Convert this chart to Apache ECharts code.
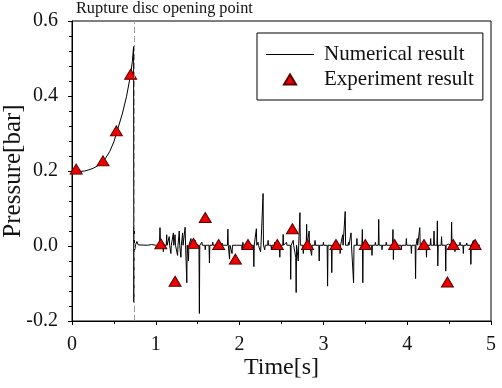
<!DOCTYPE html>
<html><head><meta charset="utf-8">
<script src="https://cdn.jsdelivr.net/npm/echarts@6/dist/echarts.min.js"></script>
<style>html,body{margin:0;padding:0;background:#fff}#c{width:502px;height:388px}</style>
</head><body><div id="c"></div>
<script>
const xTicks = [0, 1, 2, 3, 4, 5];
const yTicks = [-0.2, 0.0, 0.2, 0.4, 0.6];
const ruptureTime = 0.74;
const expTime = [0.05,0.37,0.53,0.70,1.06,1.23,1.45,1.59,1.75,1.95,2.10,2.45,2.63,2.81,3.15,3.50,3.85,4.20,4.48,4.55,4.81];
const expPressure = [0.205,0.227,0.307,0.458,0.006,-0.094,0.007,0.076,0.004,-0.035,0.004,0.004,0.046,0.004,0.004,0.004,0.004,0.004,-0.096,0.004,0.004];
const numerical = [
[0,0.198],[0.05,0.198],[0.1,0.199],[0.15,0.200],[0.2,0.203],[0.25,0.207],[0.3,0.213],[0.35,0.221],[0.4,0.234],[0.45,0.252],[0.5,0.278],[0.55,0.315],[0.6,0.352],[0.65,0.398],[0.7,0.458],[0.72,0.492],[0.735,0.532],
[0.738,-0.15],[0.742,0.05],[0.748,-0.01],[0.76,0.004],[0.775,0.012],[0.79,0.003],[0.9,0.002],[0.95,0.004],[1.0,0.002],
[1.043,0.002],[1.05,0.049],[1.057,0.002],
[1.085,0.002],[1.09,-0.015],[1.095,0.002],
[1.125,0.002],[1.13,0.03],[1.135,0.002],
[1.155,0.002],[1.16,0.025],[1.165,0.002],
[1.175,0.002],[1.18,-0.02],[1.185,0.002],
[1.205,0.002],[1.21,0.035],[1.215,0.002],
[1.225,0.002],[1.23,0.03],[1.235,0.002],
[1.255,0.002],[1.26,-0.025],[1.265,0.002],
[1.275,0.002],[1.28,0.04],[1.285,0.002],
[1.295,0.002],[1.30,-0.03],[1.305,0.002],
[1.315,0.002],[1.32,0.035],[1.325,0.002],
[1.345,0.002],[1.35,0.05],[1.355,0.002],
[1.365,0.002],[1.37,-0.098],[1.375,0.002],
[1.385,0.002],[1.39,-0.04],[1.395,0.002],
[1.415,0.002],[1.42,0.02],[1.425,0.002],
[1.465,0.002],[1.47,0.015],[1.475,0.002],
[1.515,0.002],[1.52,-0.18],[1.525,0.002],
[1.545,0.002],[1.55,0.01],[1.555,0.002],
[1.585,0.002],[1.59,-0.01],[1.595,0.002],
[1.635,0.002],[1.64,-0.045],[1.645,0.002],
[1.675,0.002],[1.68,0.01],[1.685,0.002],
[1.725,0.002],[1.73,-0.01],[1.735,0.002],
[1.785,0.002],[1.79,0.008],[1.795,0.002],
[1.855,0.002],[1.86,0.045],[1.865,0.002],
[1.875,0.002],[1.88,-0.035],[1.885,0.002],
[1.905,0.002],[1.91,-0.02],[1.915,0.002],
[1.965,0.002],[1.97,0.005],[1.975,0.002],
[2.025,0.002],[2.03,-0.01],[2.035,0.002],
[2.04,0.01],[2.045,0.002],
[2.165,0.002],[2.17,-0.055],[2.175,0.002],
[2.195,0.002],[2.20,0.046],[2.205,0.002],
[2.22,0.01],[2.225,0.002],
[2.245,0.002],[2.25,-0.015],[2.255,0.002],
[2.275,0.002],[2.28,0.14],[2.285,0.002],
[2.30,-0.01],[2.305,0.002],
[2.335,0.002],[2.34,0.015],[2.345,0.002],
[2.375,0.002],[2.38,-0.01],[2.385,0.002],
[2.415,0.002],[2.42,0.01],[2.425,0.002],
[2.475,0.002],[2.48,-0.03],[2.485,0.002],
[2.515,0.002],[2.52,0.031],[2.525,0.002],
[2.56,0.01],[2.565,0.002],
[2.605,0.002],[2.61,-0.089],[2.615,0.002],
[2.64,0.015],[2.645,0.002],
[2.665,0.002],[2.67,-0.03],[2.675,-0.124],[2.68,0.002],
[2.695,0.002],[2.70,-0.04],[2.705,0.002],
[2.715,0.002],[2.72,0.089],[2.725,0.002],
[2.755,0.002],[2.76,-0.02],[2.765,0.002],
[2.795,0.002],[2.80,0.058],[2.805,0.002],
[2.825,0.002],[2.83,0.04],[2.835,0.002],
[2.855,0.002],[2.86,-0.025],[2.865,0.002],
[2.895,0.002],[2.90,0.015],[2.905,0.002],
[2.945,0.002],[2.95,-0.04],[2.955,0.002],
[2.995,0.002],[3.00,0.01],[3.005,0.002],
[3.045,0.002],[3.05,-0.107],[3.055,0.002],
[3.095,0.002],[3.10,-0.071],[3.105,0.002],
[3.135,0.002],[3.14,0.01],[3.145,0.002],
[3.195,0.002],[3.20,-0.02],[3.205,0.002],
[3.225,0.002],[3.23,0.03],[3.235,0.002],
[3.255,0.002],[3.26,0.092],[3.265,0.002],
[3.295,0.002],[3.30,0.01],[3.305,0.002],
[3.325,0.002],[3.33,0.035],[3.335,0.002],
[3.355,0.002],[3.36,-0.098],[3.365,0.002],
[3.395,0.002],[3.40,0.02],[3.405,0.002],
[3.46,0.002],[3.465,0.044],[3.47,-0.098],[3.475,0.002],
[3.515,0.002],[3.52,0.005],[3.525,0.002],
[3.575,0.002],[3.58,-0.025],[3.585,0.002],
[3.615,0.002],[3.62,0.01],[3.625,0.002],
[3.655,0.002],[3.66,0.071],[3.665,0.002],
[3.695,0.002],[3.70,-0.01],[3.705,0.002],
[3.745,0.002],[3.75,0.01],[3.755,0.002],
[3.825,0.002],[3.83,0.044],[3.835,-0.036],[3.84,0.002],
[3.865,0.002],[3.87,0.005],[3.875,0.002],
[3.925,0.002],[3.93,-0.01],[3.935,0.002],
[3.985,0.002],[3.99,0.02],[3.995,0.002],
[4.045,0.002],[4.05,-0.02],[4.055,0.002],
[4.095,0.002],[4.10,-0.087],[4.105,0.002],
[4.12,0.02],[4.125,0.002],
[4.145,0.002],[4.15,0.049],[4.155,0.002],
[4.185,0.002],[4.19,-0.01],[4.195,0.002],
[4.225,0.002],[4.23,-0.03],[4.235,0.002],
[4.275,0.002],[4.28,0.02],[4.285,0.002],
[4.315,0.002],[4.32,0.04],[4.325,0.002],
[4.355,0.002],[4.36,0.067],[4.365,-0.053],[4.37,0.002],
[4.405,0.002],[4.41,0.025],[4.415,0.002],
[4.455,0.002],[4.46,-0.067],[4.465,0.002],
[4.49,0.005],[4.495,0.002],
[4.525,0.002],[4.53,0.064],[4.535,0.002],
[4.565,0.002],[4.57,-0.015],[4.575,0.002],
[4.625,0.002],[4.63,0.01],[4.635,0.002],
[4.665,0.002],[4.67,-0.02],[4.675,0.002],
[4.705,0.002],[4.71,0.008],[4.715,0.002],
[4.755,0.002],[4.76,-0.049],[4.765,0.002],
[4.785,0.002],[4.79,0.015],[4.795,0.002],
[4.825,0.002],[4.83,-0.01],[4.835,0.002],
[4.87,0.002]
];

const FONT = 'Liberation Serif';
const TXT = '#111';
const chart = echarts.init(document.getElementById('c'), null, {renderer: 'canvas'});
chart.setOption({
  animation: false,
  backgroundColor: '#fff',
  title: {
    text: 'Rupture disc opening point', left: 76, top: 1, padding: 0,
    textStyle: {fontFamily: FONT, fontSize: 16.3, fontWeight: 'normal', color: TXT}
  },
  legend: {
    show: true,
    left: 257, top: 33, orient: 'vertical',
    backgroundColor: '#fff',
    borderColor: '#000', borderWidth: 1,
    padding: [11, 9, 10, 8],
    itemWidth: 48, itemHeight: 12, itemGap: 4,
    textStyle: {fontFamily: FONT, fontSize: 21, color: TXT, padding: [0, 0, 0, 5]},
    data: [
      {name: 'Numerical result', icon: 'path://M0,0 M48,12 M0,5.5 L48,5.5 L48,6.6 L0,6.6 Z', itemStyle: {color: '#000', borderWidth: 0}},
      {name: 'Experiment result', icon: 'path://M0,0 M48,12 M18,11 L24,1 L30,11 Z'}
    ]
  },
  grid: {left: 72, right: 11, top: 21, bottom: 67, outerBoundsMode: 'none', containLabel: false,
         show: true, borderColor: '#000', borderWidth: 1, backgroundColor: 'transparent'},
  xAxis: {
    type: 'value', min: xTicks[0], max: xTicks[xTicks.length - 1], interval: 1,
    name: 'Time[s]', nameLocation: 'middle', nameGap: 35, nameMoveOverlap: false,
    nameTextStyle: {fontFamily: FONT, fontSize: 24, color: TXT},
    axisLine: {show: true, onZero: false, lineStyle: {color: '#000', width: 1}},
    axisTick: {show: true, inside: false, length: 4, lineStyle: {color: '#000'}},
    minorTick: {show: true, splitNumber: 2, length: 3, lineStyle: {color: '#000'}},
    splitLine: {show: false},
    axisLabel: {fontFamily: FONT, fontSize: 20, color: TXT, margin: 14}
  },
  yAxis: {
    type: 'value', min: yTicks[0], max: yTicks[yTicks.length - 1], interval: 0.2,
    name: 'Pressure[bar]', nameLocation: 'middle', nameGap: 46, nameRotate: 90, nameMoveOverlap: false,
    nameTextStyle: {fontFamily: FONT, fontSize: 25, color: TXT},
    axisLine: {show: true, onZero: false, lineStyle: {color: '#000', width: 1}},
    axisTick: {show: true, inside: false, length: 4, lineStyle: {color: '#000'}},
    minorTick: {show: true, splitNumber: 5, length: 3, lineStyle: {color: '#000'}},
    splitLine: {show: false},
    axisLabel: {fontFamily: FONT, fontSize: 20, color: TXT, margin: 14, formatter: v => v.toFixed(1)}
  },
  series: [
    {
      name: 'Numerical result', type: 'line', data: numerical, showSymbol: false, symbol: 'none',
      lineStyle: {color: '#000', width: 1}, itemStyle: {color: '#000'},
      markLine: {
        silent: true, symbol: ['none', 'none'], label: {show: false},
        lineStyle: {color: '#9a9a9a', type: [6, 3], width: 1},
        data: [{xAxis: ruptureTime}]
      },
      z: 2
    },
    {
      name: 'Experiment result', type: 'scatter',
      data: expTime.map((t, i) => [t, expPressure[i]]),
      symbol: 'triangle', symbolSize: [12, 10],
      itemStyle: {color: '#ee0000', borderColor: '#5a0000', borderWidth: 1, opacity: 1},
      z: 3
    }
  ]
});
</script></body></html>
